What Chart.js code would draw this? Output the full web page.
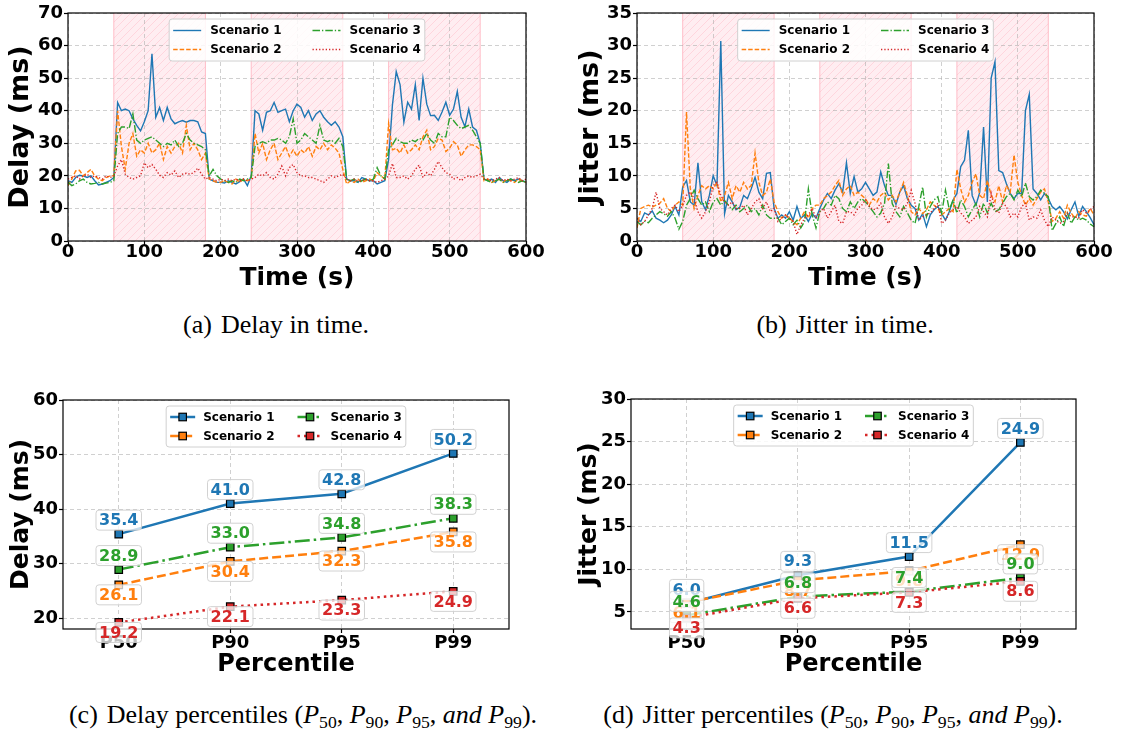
<!DOCTYPE html>
<html>
<head>
<meta charset="utf-8">
<script src="https://cdn.jsdelivr.net/npm/chart.js@4.4.1/dist/chart.umd.min.js"></script>
<style>
  html, body { margin: 0; padding: 0; background: #fff; }
  #fig { position: relative; width: 1121px; height: 731px; overflow: hidden; }
  #fig canvas { position: absolute; }
  .cap {
    position: absolute; transform: translate(-50%, -50%);
    font-family: "Liberation Serif", "Times New Roman", serif; font-size: 26px;
    color: #000; white-space: nowrap;
  }
  .cap .tag { margin-right: 9px; }
  .cap sub { font-size: 0.68em; vertical-align: -0.28em; line-height: 0; }
</style>
</head>
<body>
<div id="fig">
  <canvas id="delayTime" width="545" height="300" style="left:0;top:0"></canvas>
  <canvas id="jitterTime" width="561" height="300" style="left:560px;top:0"></canvas>
  <canvas id="delayPct" width="545" height="300" style="left:0;top:385px"></canvas>
  <canvas id="jitterPct" width="561" height="300" style="left:560px;top:385px"></canvas>

  <div class="cap" style="left:276px;top:325px"><span class="tag">(a)</span>Delay in time.</div>
  <div class="cap" style="left:845px;top:325px"><span class="tag">(b)</span>Jitter in time.</div>
  <div class="cap" style="left:303px;top:715px"><span class="tag">(c)</span>Delay percentiles (<i>P</i><sub>50</sub>, <i>P</i><sub>90</sub>, <i>P</i><sub>95</sub>, <i>and P</i><sub>99</sub>).</div>
  <div class="cap" style="left:833px;top:715px"><span class="tag">(d)</span>Jitter percentiles (<i>P</i><sub>50</sub>, <i>P</i><sub>90</sub>, <i>P</i><sub>95</sub>, <i>and P</i><sub>99</sub>).</div>
</div>

<script>
// ---- data ----
const scenarioNames = ['Scenario 1', 'Scenario 2', 'Scenario 3', 'Scenario 4'];
const scenarioColors = ['#1f77b4', '#ff7f0e', '#2ca02c', '#d62728'];

// congestion windows (s)
const attackWindows = [[60, 180], [240, 360], [420, 540]];

const timeSec = [
  0, 5, 10, 15, 20, 25, 30, 35, 40, 45,
  50, 55, 60, 65, 70, 75, 80, 85, 90, 95,
  100, 105, 110, 115, 120, 125, 130, 135, 140, 145,
  150, 155, 160, 165, 170, 175, 180, 185, 190, 195,
  200, 205, 210, 215, 220, 225, 230, 235, 240, 245,
  250, 255, 260, 265, 270, 275, 280, 285, 290, 295,
  300, 305, 310, 315, 320, 325, 330, 335, 340, 345,
  350, 355, 360, 365, 370, 375, 380, 385, 390, 395,
  400, 405, 410, 415, 420, 425, 430, 435, 440, 445,
  450, 455, 460, 465, 470, 475, 480, 485, 490, 495,
  500, 505, 510, 515, 520, 525, 530, 535, 540, 545,
  550, 555, 560, 565, 570, 575, 580, 585, 590, 595, 600
];

// delay (ms), one value per timeSec entry
const delayS1 = [
  18.5, 18, 19.5, 20.2, 20, 19.5, 20, 18.5, 17.2, 17.5,
  18, 18.5, 19.5, 42.5, 40, 40.5, 40, 37.5, 35.5, 33.8,
  36.6, 40, 57.5, 38, 41, 37, 41, 37.5, 36, 36.6,
  37, 36.5, 37, 37, 36.6, 33.5, 33, 19, 18.5, 18,
  18, 17.8, 18.5, 18, 17.5, 18.2, 19, 17, 20, 40,
  39, 34, 39.5, 40, 42.5, 39.5, 40, 40.5, 36.6, 40,
  42, 41, 38, 40, 37, 39, 40, 38, 36.6, 35.5,
  36.6, 35, 32, 19, 18.5, 18.5, 18, 19.5, 19, 18.5,
  18.5, 17.5, 18, 18.5, 25, 41.7, 52, 48, 36.5, 42.6,
  40.5, 48, 37, 50, 42, 38.5, 38.6, 37, 39.6, 42.6,
  38.6, 40.5, 45.9, 38, 35.1, 40.5, 35, 34, 30, 19,
  18.5, 19, 18, 19.5, 18.5, 18, 19, 18.5, 19, 18.5, 18
];
const delayS2 = [
  17, 19, 21.5, 21.7, 20, 21, 22, 20, 19, 18.5,
  19.5, 20, 20, 40, 29, 22, 30, 33, 26, 28,
  27, 30, 27, 28, 30, 25, 29, 27, 29, 30,
  27, 35.5, 28, 30, 28, 25, 27, 19, 18.5, 18,
  18, 18.5, 18, 17.5, 19, 18, 19, 18.5, 19, 33,
  27, 30, 25, 28, 30, 25, 27, 29, 26, 28,
  26, 28, 27, 29, 26, 29, 28, 30, 28, 29.5,
  28.5, 27, 22, 17.5, 18.5, 18, 19, 18, 18.5, 19,
  18.5, 21, 20, 19, 36, 28, 28.5, 27, 29.5, 27,
  28, 29.5, 28, 32, 34, 28, 29, 31.5, 31, 27.5,
  28.5, 30.5, 29.5, 26, 28, 29.5, 29.5, 29, 28, 18.5,
  19, 18, 18.5, 19, 18, 19, 18.5, 18, 19, 18.5, 18
];
const delayS3 = [
  18, 17, 17.5, 18.5, 19, 18, 17.5, 17.7, 18, 17.5,
  17.8, 18, 18.5, 33, 35, 35, 34.5, 39, 31, 30,
  31, 31.5, 32, 31, 30, 29, 30, 29.5, 31, 29,
  30, 33, 31, 30, 29.5, 29, 28, 20, 22, 20,
  19, 18.5, 18, 18.5, 18, 19, 18.5, 19, 19.5, 29,
  30, 30.5, 30, 31, 31, 31.5, 31, 30, 32, 37.5,
  30, 31, 33, 32, 31, 30, 35.5, 31, 30.5, 31,
  30, 31.5, 29, 19, 18.5, 19, 18, 18.5, 19, 18.5,
  19, 22.5, 20, 19, 28, 29.5, 31.5, 30.5, 30, 30,
  31, 30.5, 31.5, 31, 33, 31, 30, 33, 32, 32,
  38, 37, 35.5, 34.5, 35, 35.5, 34, 32, 30, 19,
  18.5, 18, 18.5, 19, 18, 18.5, 19, 18.5, 18, 18.5, 18
];
const delayS4 = [
  19, 19.5, 20, 19, 20, 20.5, 19.5, 20, 19.5, 19,
  20, 19.5, 20, 23, 25, 20.5, 19.5, 19, 19.5, 20,
  24, 22.5, 23.5, 22, 20.2, 19.5, 21, 20.2, 21.5, 19.5,
  20.5, 20.8, 20.5, 21, 22.4, 20.5, 19, 19.5, 19, 18.5,
  19, 18.5, 19, 18.5, 19, 18.5, 19, 18.5, 19, 19.5,
  20.5, 20, 21, 19.5, 19, 20.5, 23, 20, 22.5, 23.5,
  21, 20, 20, 19.5, 19.5, 19, 18.5, 18, 19, 20,
  19.5, 20, 20.5, 19, 18.5, 19, 18.5, 18.5, 19, 18.5,
  18.5, 18, 18.5, 19, 20, 23.8, 19.5, 19.5, 20, 19,
  20, 22, 23.3, 19.5, 21, 20, 22, 24.4, 22.5, 21,
  20.5, 19, 19.5, 18.5, 19.5, 20, 19.5, 20, 20.5, 19,
  19, 18.5, 19, 19.5, 18.5, 19, 18.5, 19, 19.5, 18.5, 19
];

// jitter (ms), one value per timeSec entry
const jitterS1 = [
  3.5, 3, 4.3, 4, 4.6, 3.5, 3.2, 2.8, 3.2, 4,
  5.3, 4, 8.3, 9.3, 6, 5.5, 12, 6, 4.8, 7,
  10, 8.5, 30.7, 4.2, 7, 6, 4.8, 5.2, 7, 6.5,
  8, 9.8, 7.5, 6.5, 10.4, 10.5, 5, 3.5, 4, 3.5,
  4.5, 3.2, 5.3, 3.5, 4, 3, 4.2, 3.5, 5, 6.3,
  7.3, 6.5, 7.8, 8.8, 7.5, 12, 7.3, 9.9, 7.5, 8,
  9, 8, 7, 7.5, 10.6, 8.5, 7, 7, 5.6, 7.5,
  8.5, 6.5, 5.5, 5, 3.2, 4.2, 2.2, 4, 4.8, 5.3,
  4.2, 3.2, 4.5, 6.3, 7.3, 11.4, 12.4, 17, 7, 5.5,
  7.5, 17.5, 6, 25, 27.5, 10.8, 10.5, 8.8, 7.3, 6.5,
  7.3, 7.3, 20, 22.5, 8, 7.3, 6.3, 7.3, 6.5, 5.3,
  4.8, 5.3, 4.5, 3.4, 4.8, 6, 3.8, 5.3, 4.5, 3.6, 2.5
];
const jitterS2 = [
  2, 5, 5.3, 5.5, 5.2, 5.5, 5.8, 6.5, 5, 4.5,
  5.5, 6, 5.5, 19.8, 8, 5, 7, 8.5, 8, 8.5,
  8, 9, 6, 7, 9, 6.5, 8.5, 7.5, 9, 8,
  8.5, 13.5, 9, 7, 7.5, 9.5, 6, 4.5, 3.5, 4,
  3.5, 3, 2.5, 3.5, 4.5, 3.5, 5, 5.5, 5.5, 6.5,
  7, 7.5, 8.5, 9.3, 7, 8, 8.5, 7, 7.5, 7,
  6.5, 5.5, 6.5, 6, 7, 7.5, 6.3, 7, 6, 7.5,
  9, 7, 4.5, 4, 5, 4.2, 4.8, 6, 5.5, 5,
  4, 4.5, 5, 4.5, 11, 8, 6, 7, 9, 10.3,
  7, 6.5, 9.3, 7, 6, 8.5, 6, 8.5, 7.5, 13.2,
  9, 7, 5.5, 6.5, 5.5, 6.5, 7.5, 8, 6, 3,
  3.5, 4.5, 3.5, 5.5, 4.3, 3.5, 4.5, 4, 3.8, 5, 4
];
const jitterS3 = [
  3, 2.5, 3, 2.8, 3.5, 4, 4.5, 4.2, 3.8, 4.5,
  3.5, 1.8, 3, 5.5, 6.5, 7.8, 6.5, 5.5, 6, 4.5,
  6, 6.5, 5.5, 6.2, 5.5, 4.8, 5.5, 4.5, 5, 5.5,
  4.5, 5, 4, 5.5, 4, 3.5, 3.5, 3.5, 2.5, 3,
  3.5, 2.5, 3.2, 2, 3, 8, 4, 2, 4.5, 5,
  6, 5.5, 7, 6.5, 5, 4.5, 6, 5, 6, 6.5,
  6, 5.3, 4.5, 3.7, 4.3, 5.8, 11.9, 5.8, 4.5, 3.7,
  5.3, 4.3, 3.2, 2.7, 5.3, 8.3, 3.7, 5.3, 6.3, 6.8,
  4.3, 7.8, 4.8, 6.3, 4.3, 6.3, 5.3, 3.7, 4.8, 5.8,
  3.7, 5.8, 4.3, 5.8, 4.5, 4.8, 5.8, 6.8, 7.3, 6.3,
  7.8, 6.8, 8.9, 6.8, 6.3, 6.8, 7.8, 7.3, 6.8, 1.6,
  2.7, 3.7, 2.2, 4.3, 2.7, 3.7, 3.2, 3.5, 3.2, 2.6, 2.2
];
const jitterS4 = [
  3.5, 2.5, 3, 4, 5, 7.5, 5, 4.5, 4, 5,
  5.5, 4.5, 5.5, 7, 7.5, 6.5, 4.5, 3.5, 4.5, 6,
  8.5, 9, 7, 6, 5.5, 6, 5, 5, 5.5, 4,
  5, 6, 6.5, 5, 6, 4.5, 5, 3, 3.5, 4,
  3.5, 3, 1, 2.5, 3.5, 4, 5, 3.5, 4.5, 5,
  3.5, 4.5, 5.5, 3, 2.7, 4.5, 4.5, 4, 5, 5.5,
  6.3, 5.3, 4.8, 5, 5.8, 3.7, 2.7, 3.7, 5.3, 5,
  4.8, 5.8, 7.8, 5.8, 3.2, 3.7, 4, 4.3, 5, 5.8,
  2.7, 3.2, 4.3, 4.8, 5.3, 4.3, 3.7, 2.7, 3.2, 3.7,
  5.3, 4.5, 3.7, 7.3, 4.8, 4.3, 5.8, 5.3, 3.7, 4.3,
  3.7, 5.3, 5.8, 3.2, 3.7, 3.5, 4.8, 3.2, 2.2, 3.7,
  3.2, 2.7, 3, 4.3, 3.7, 3.7, 3.5, 4.8, 4.3, 4.8, 5.3
];

// percentiles
const pctLabels = ['P50', 'P90', 'P95', 'P99'];
const pctDelayS1 = [35.4, 41.0, 42.8, 50.2];
const pctDelayS2 = [26.1, 30.4, 32.3, 35.8];
const pctDelayS3 = [28.9, 33.0, 34.8, 38.3];
const pctDelayS4 = [19.2, 22.1, 23.3, 24.9];
const pctJitterS1 = [6.0, 9.3, 11.5, 24.9];
const pctJitterS2 = [6.1, 8.7, 9.8, 12.9];
const pctJitterS3 = [4.6, 6.8, 7.4, 9.0];
const pctJitterS4 = [4.3, 6.6, 7.3, 8.6];

// tick values
const timeTicks = [0, 100, 200, 300, 400, 500, 600];
const delayTimeTicks = [0, 10, 20, 30, 40, 50, 60, 70];
const jitterTimeTicks = [0, 5, 10, 15, 20, 25, 30, 35];
const delayPctTicks = [20, 30, 40, 50, 60];
const jitterPctTicks = [5, 10, 15, 20, 25, 30];

// ---- styling ----
Chart.defaults.font.family = '"DejaVu Sans", sans-serif';
Chart.defaults.color = '#000';

const thinDash = [[], [4.5, 2], [7.5, 2, 1.3, 2], [1.3, 2]];
const thickDash = [[], [9, 4], [15, 4, 2.5, 4], [2.5, 4]];
const labelSide = [-1, 1, -1, 1];   // above / below the marker
const gridColor = 'rgba(170,170,170,0.55)';

const bold = size => ({ family: '"DejaVu Sans", sans-serif', size, weight: 'bold' });

let hatchPattern = null;
function getHatch(ctx) {
  if (hatchPattern) return hatchPattern;
  const c = document.createElement('canvas');
  c.width = 8; c.height = 8;
  const g = c.getContext('2d');
  g.strokeStyle = 'rgba(255,150,170,0.28)';
  g.lineWidth = 1;
  g.beginPath();
  g.moveTo(0, 8); g.lineTo(8, 0);
  g.moveTo(-1, 1); g.lineTo(1, -1);
  g.moveTo(7, 9); g.lineTo(9, 7);
  g.stroke();
  hatchPattern = ctx.createPattern(c, 'repeat');
  return hatchPattern;
}

function drawLegend(chart, o) {
  const { ctx, chartArea: a } = chart;
  const ds = chart.data.datasets;
  ctx.save();
  ctx.font = 'bold 12px "DejaVu Sans"';
  const tw = ds.map(d => ctx.measureText(d.label).width);
  const colW = [Math.max(tw[0], tw[1]), Math.max(tw[2], tw[3])];
  const w = 2 * o.padX + 2 * (o.handle + o.gap) + colW[0] + colW[1] + o.colGap;
  const h = 2 * o.padY + 2 * o.row;
  const bx = (a.left + a.right) / 2 - w / 2;
  const by = a.top + o.top;
  ctx.beginPath();
  ctx.roundRect(bx, by, w, h, 3);
  ctx.fillStyle = 'rgba(255,255,255,0.85)';
  ctx.fill();
  ctx.strokeStyle = '#d0d0d0';
  ctx.lineWidth = 1;
  ctx.stroke();
  ds.forEach((d, i) => {
    const col = i < 2 ? 0 : 1, row = i % 2;
    const hx = bx + o.padX + col * (o.handle + o.gap + colW[0] + o.colGap);
    const cy = by + o.padY + row * o.row + o.row / 2;
    ctx.beginPath();
    ctx.setLineDash(d.borderDash || []);
    ctx.strokeStyle = d.borderColor;
    ctx.lineWidth = d.borderWidth;
    ctx.moveTo(hx, cy);
    ctx.lineTo(hx + o.handle, cy);
    ctx.stroke();
    ctx.setLineDash([]);
    if (d.pointRadius > 0) {
      const s = d.pointRadius * Math.SQRT1_2;
      ctx.fillStyle = d.pointBackgroundColor;
      ctx.fillRect(hx + o.handle / 2 - s, cy - s, 2 * s, 2 * s);
      ctx.strokeStyle = d.pointBorderColor;
      ctx.lineWidth = d.pointBorderWidth;
      ctx.strokeRect(hx + o.handle / 2 - s, cy - s, 2 * s, 2 * s);
    }
    ctx.fillStyle = '#000';
    ctx.textAlign = 'left';
    ctx.textBaseline = 'middle';
    ctx.fillText(d.label, hx + o.handle + o.gap, cy + 0.5);
  });
  ctx.restore();
}

function drawPointLabels(chart) {
  const { ctx } = chart;
  ctx.save();
  ctx.font = 'bold 16px "DejaVu Sans"';
  ctx.textAlign = 'center';
  ctx.textBaseline = 'middle';
  chart.data.datasets.forEach((d, i) => {
    const meta = chart.getDatasetMeta(i);
    meta.data.forEach((pt, k) => {
      const txt = d.data[k].toFixed(1);
      const cy = pt.y + (labelSide[i] < 0 ? -14 : 10);
      const tw = ctx.measureText(txt).width;
      ctx.beginPath();
      ctx.roundRect(pt.x - tw / 2 - 3, cy - 10, tw + 6, 20, 3);
      ctx.fillStyle = 'rgba(255,255,255,0.75)';
      ctx.fill();
      ctx.strokeStyle = 'rgba(205,205,205,0.9)';
      ctx.lineWidth = 1;
      ctx.stroke();
      ctx.fillStyle = d.borderColor;
      ctx.fillText(txt, pt.x, cy + 1);
    });
  });
  ctx.restore();
}

const decor = {
  id: 'decor',
  beforeDraw(chart, args, o) {
    if (!o.windows) return;
    const { ctx, chartArea: a, scales: { x } } = chart;
    ctx.save();
    o.windows.forEach(([s, e]) => {
      const x0 = x.getPixelForValue(s), x1 = x.getPixelForValue(e);
      ctx.fillStyle = 'rgba(255,192,203,0.28)';
      ctx.fillRect(x0, a.top, x1 - x0, a.bottom - a.top);
      ctx.fillStyle = getHatch(ctx);
      ctx.fillRect(x0, a.top, x1 - x0, a.bottom - a.top);
      ctx.strokeStyle = 'rgba(255,165,180,0.7)';
      ctx.lineWidth = 1;
      ctx.beginPath();
      ctx.moveTo(x0, a.top); ctx.lineTo(x0, a.bottom);
      ctx.moveTo(x1, a.top); ctx.lineTo(x1, a.bottom);
      ctx.stroke();
    });
    ctx.restore();
  },
  afterDraw(chart, args, o) {
    const { ctx, chartArea: a } = chart;
    ctx.save();
    ctx.strokeStyle = '#000';
    ctx.lineWidth = 1.2;
    ctx.strokeRect(a.left, a.top, a.right - a.left, a.bottom - a.top);
    ctx.restore();
    if (o.pointLabels) drawPointLabels(chart);
    drawLegend(chart, o.legend);
  }
};

function gridOpts() {
  return { color: gridColor, lineWidth: 1, tickLength: 4, tickColor: '#000', tickWidth: 1.2, tickBorderDash: [] };
}

function yAxis(min, max, ticks, title, titleSize, titlePad, width) {
  return {
    type: 'linear', min, max,
    afterBuildTicks: s => { s.ticks = ticks.map(v => ({ value: v })); },
    afterFit: s => { s.width = width; },
    ticks: { font: bold(18), color: '#000', padding: 1 },
    grid: gridOpts(),
    border: { display: false, dash: [4, 3] },
    title: { display: true, text: title, font: bold(titleSize), color: '#000', padding: { top: titlePad, bottom: 0 } }
  };
}

function xAxisBase(title, titleSize, titlePad, height, tickPad) {
  return {
    afterFit: s => { s.height = height; },
    ticks: { font: bold(18), color: '#000', padding: tickPad, maxRotation: 0, autoSkip: false },
    grid: gridOpts(),
    border: { display: false, dash: [4, 3] },
    title: { display: true, text: title, font: bold(titleSize), color: '#000', padding: { top: 0, bottom: titlePad } }
  };
}

function timeDatasets(series) {
  return series.map((vals, i) => ({
    label: scenarioNames[i],
    data: timeSec.map((t, k) => ({ x: t, y: vals[k] })),
    borderColor: scenarioColors[i],
    backgroundColor: scenarioColors[i],
    borderWidth: 1.4,
    borderDash: thinDash[i],
    pointRadius: 0,
    tension: 0,
    order: 4 - i
  }));
}

function pctDatasets(series) {
  return series.map((vals, i) => ({
    label: scenarioNames[i],
    data: vals,
    borderColor: scenarioColors[i],
    backgroundColor: scenarioColors[i],
    borderWidth: 2.5,
    borderDash: thickDash[i],
    pointStyle: 'rect',
    pointRadius: 5.3,
    pointBackgroundColor: scenarioColors[i],
    pointBorderColor: '#000',
    pointBorderWidth: 1.2,
    tension: 0,
    order: 4 - i
  }));
}

const legendTop = { top: 6, padX: 4, padY: 2, row: 19, handle: 28, gap: 9, colGap: 31 };
const legendBottom = { top: 6, padX: 4, padY: 1.5, row: 19, handle: 25, gap: 8, colGap: 23 };

function timeChart(id, series, yMax, yTicks, yTitle, yTitlePad, yWidth, padRight) {
  return new Chart(document.getElementById(id), {
    type: 'line',
    data: { datasets: timeDatasets(series) },
    options: {
      responsive: false, animation: false, events: [],
      layout: { padding: { left: 0, top: 13, right: padRight, bottom: 0 } },
      plugins: {
        legend: { display: false }, tooltip: { enabled: false },
        decor: { windows: attackWindows, legend: legendTop }
      },
      scales: {
        x: Object.assign({ type: 'linear', min: 0, max: 600,
          afterBuildTicks: s => { s.ticks = timeTicks.map(v => ({ value: v })); } },
          xAxisBase('Time (s)', 25, 7, 59, -3)),
        y: yAxis(0, yMax, yTicks, yTitle, 27, yTitlePad, yWidth)
      }
    },
    plugins: [decor]
  });
}

function pctChart(id, series, yMin, yMax, yTicks, yTitle, yTitlePad, yWidth, padTop, padRight) {
  return new Chart(document.getElementById(id), {
    type: 'line',
    data: { labels: pctLabels, datasets: pctDatasets(series) },
    options: {
      responsive: false, animation: false, events: [],
      layout: { padding: { left: 0, top: padTop, right: padRight, bottom: 0 } },
      plugins: {
        legend: { display: false }, tooltip: { enabled: false },
        decor: { pointLabels: true, legend: legendBottom }
      },
      scales: {
        x: Object.assign({ type: 'category', offset: true }, xAxisBase('Percentile', 24, 6, 56, 0)),
        y: yAxis(yMin, yMax, yTicks, yTitle, 25, yTitlePad, yWidth)
      }
    },
    plugins: [decor]
  });
}

timeChart('delayTime', [delayS1, delayS2, delayS3, delayS4], 70, delayTimeTicks, 'Delay (ms)', 5, 68, 19);
timeChart('jitterTime', [jitterS1, jitterS2, jitterS3, jitterS4], 35, jitterTimeTicks, 'Jitter (ms)', 15, 77, 27);
pctChart('delayPct', [pctDelayS1, pctDelayS2, pctDelayS3, pctDelayS4], 18, 60, delayPctTicks, 'Delay (ms)', 6, 63, 15, 36);
pctChart('jitterPct', [pctJitterS1, pctJitterS2, pctJitterS3, pctJitterS4], 3, 30, jitterPctTicks, 'Jitter (ms)', 14, 71, 14, 45);
</script>
</body>
</html>
